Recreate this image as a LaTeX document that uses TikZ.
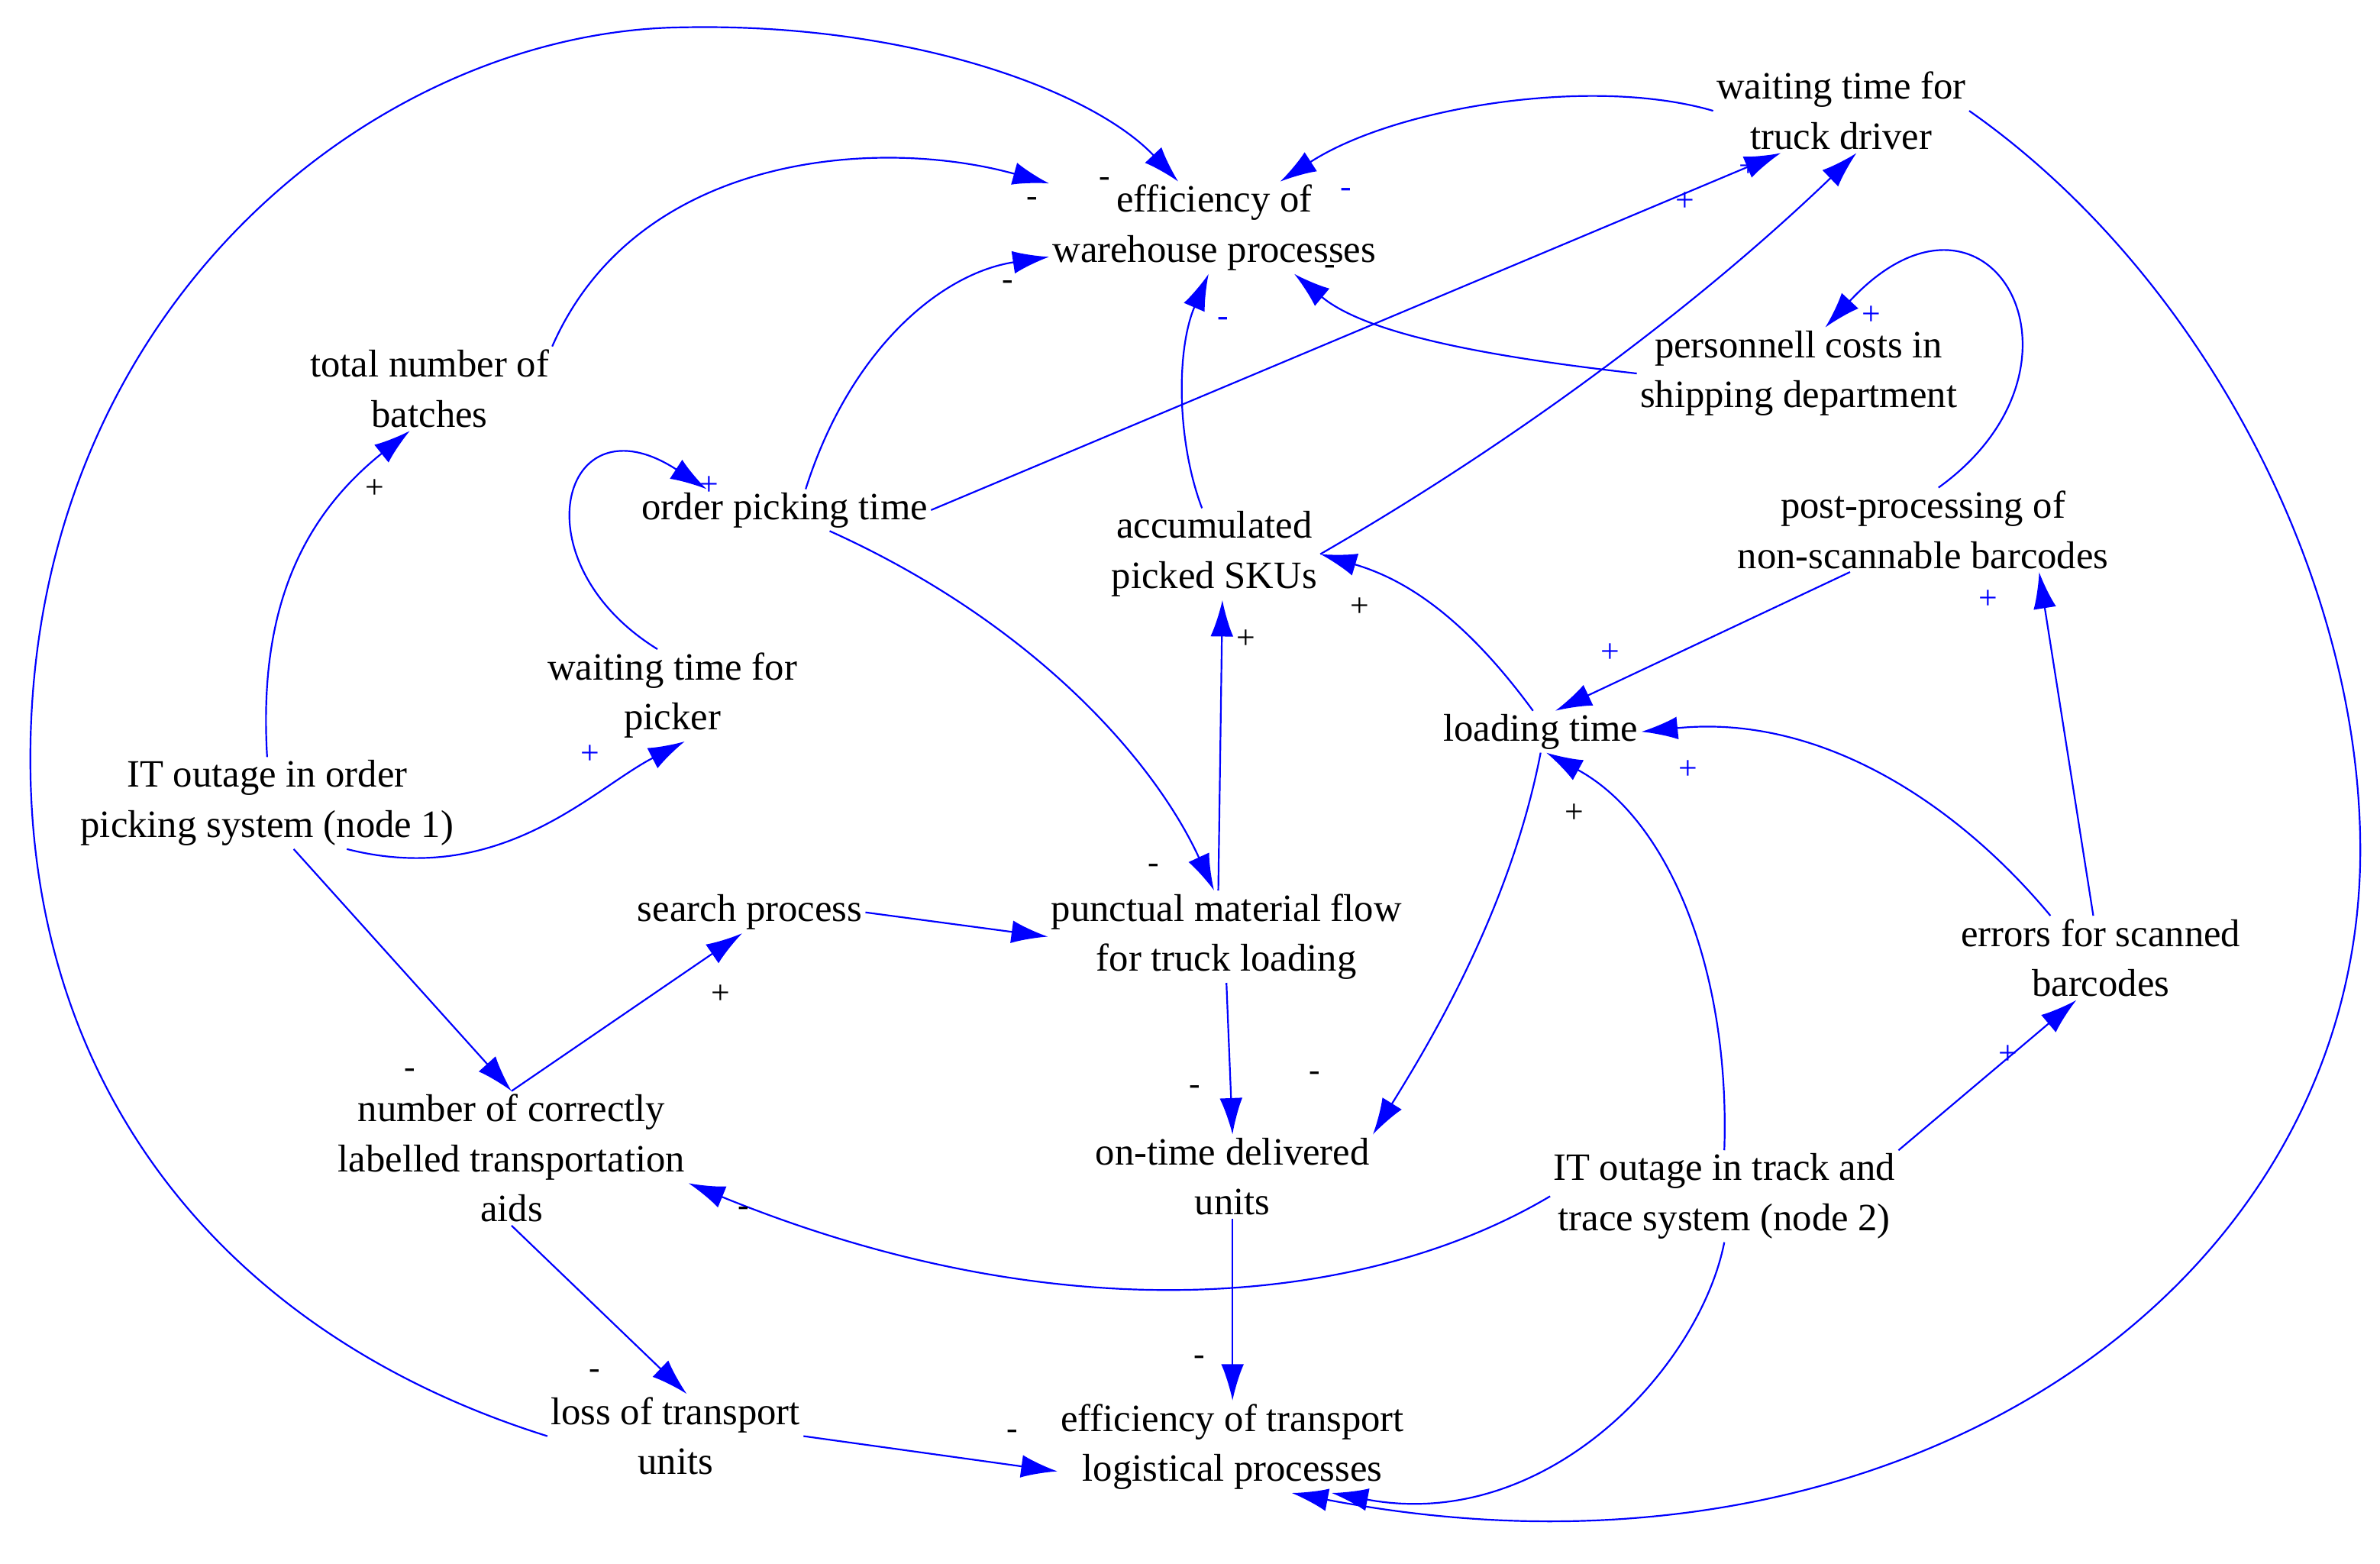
\documentclass[tikz,border=0pt]{standalone}
\usepackage{fontspec}
\setmainfont{Liberation Serif}
\usetikzlibrary{arrows.meta}
\begin{document}
\begin{tikzpicture}[x=1pt,y=-1pt,
  n/.style={align=center,font=\fontsize{25.5}{33}\selectfont,inner sep=2pt},
  e/.style={draw=blue,line width=1.1pt,-{Latex[length=24pt,width=15pt]}},
  s/.style={font=\fontsize{22}{22}\selectfont},
  sb/.style={s,text=blue}]
\useasboundingbox (0,0) rectangle (1568,1030);
\node[n] (effwh) at (800,150) {efficiency of\\warehouse processes};
\node[n] (wtruck) at (1213,73) {waiting time for\\truck driver};
\node[n] (batch) at (283,256) {total number of\\batches};
\node[n] (pers) at (1185,246) {personnell costs in\\shipping department};
\node[n] (opt) at (517,336) {order picking time};
\node[n] (acc) at (800,365) {accumulated\\picked SKUs};
\node[n] (post) at (1267,349) {post-processing of\\non-scannable barcodes};
\node[n] (wpick) at (443,458) {waiting time for\\picker};
\node[n] (load) at (1015,482) {loading time};
\node[n] (it1) at (176,529) {IT outage in order\\picking system (node 1)};
\node[n] (search) at (494,601) {search process};
\node[n] (punct) at (808,617) {punctual material flow\\for truck loading};
\node[n] (err) at (1384,631) {errors for scanned\\barcodes};
\node[n] (lab) at (337,763) {number of correctly\\labelled transportation\\aids};
\node[n] (ontime) at (812,775) {on-time delivered\\units};
\node[n] (it2) at (1136,788) {IT outage in track and\\trace system (node 2)};
\node[n] (loss) at (445,946) {loss of transport\\units};
\node[n] (efftr) at (812,953) {efficiency of transport\\logistical processes};

\draw[e] (loss.west) .. controls (150,880) and (20,720) .. (20,500) .. controls (20,200) and (250,20) .. (450,18) .. controls (600,15) and (720,60) .. (effwh.128);
\draw[e] (batch.north east) .. controls (420,100) and (580,90) .. (effwh.165);
\draw[e] (wtruck.west) .. controls (1050,50) and (920,70) .. (effwh.35);
\draw[e] (opt.45) .. controls (560,230) and (620,180) .. (effwh.190);
\draw[e] (opt.east) -- (wtruck.215);
\draw[e] (acc.east) .. controls (1000,290) and (1120,200) .. (wtruck.290);
\draw[e] (acc.105) .. controls (775,290) and (775,230) .. (effwh.263);
\draw[e] (pers.west) .. controls (980,235) and (900,220) .. (effwh.330);
\draw[e] (post.70) .. controls (1390,240) and (1310,100) .. (pers.60);
\draw[e] (it1.north) .. controls (170,400) and (200,340) .. (batch.245);
\draw[e] (wpick.108) .. controls (340,370) and (370,260) .. (opt.165);
\draw[e] (it1.330) .. controls (330,585) and (390,520) .. (wpick.285);
\draw[e] (opt.335) .. controls (680,410) and (760,500) .. (punct.105);
\draw[e] (punct.100) -- (acc.280);
\draw[e] (load.110) .. controls (960,400) and (920,380) .. (acc.east);
\draw[e] (post.210) -- (load.55);
\draw[e] (load.270) .. controls (995,600) and (940,690) .. (ontime.north east);
\draw[e] (err.140) .. controls (1290,530) and (1200,470) .. (load.east);
\draw[e] (err.100) -- (post.340);
\draw[e] (it2.north) .. controls (1140,640) and (1100,540) .. (load.285);
\draw[e] (it2.north east) -- (err.240);
\draw[e] (it2.west) .. controls (900,860) and (700,880) .. (lab.352);
\draw[e] (it2.south) .. controls (1120,900) and (1020,1010) .. (efftr.335);
\draw[e] (wtruck.east) .. controls (1450,180) and (1555,380) .. (1555,560) .. controls (1555,850) and (1250,1060) .. (efftr.322);
\draw[e] (it1.300) -- (lab.north);
\draw[e] (lab.north) -- (search.250);
\draw[e] (search.east) -- (punct.west);
\draw[e] (punct.south) -- (ontime.north);
\draw[e] (ontime.south) -- (efftr.north);
\draw[e] (lab.south) -- (loss.75);
\draw[e] (loss.east) -- (efftr.188);

\node[s] (s1) at (728,120) {-};
\node[s] (s2) at (680,133) {-};
\node[sb] (s3) at (887,127) {-};
\node[s] (s4) at (664,188) {-};
\node[sb] (s5) at (1110,133) {+};
\node[sb] (s6) at (1152,110) {+};
\node[sb] (s7) at (806,212) {-};
\node[s] (s8) at (876,178) {-};
\node[sb] (s9) at (1233,208) {+};
\node[s] (s10) at (247,322) {+};
\node[sb] (s11) at (467,320) {+};
\node[sb] (s12) at (389,497) {+};
\node[s] (s13) at (760,572) {-};
\node[s] (s14) at (821,421) {+};
\node[s] (s15) at (896,400) {+};
\node[sb] (s16) at (1061,430) {+};
\node[s] (s17) at (866,709) {-};
\node[sb] (s18) at (1112,507) {+};
\node[sb] (s19) at (1310,395) {+};
\node[s] (s20) at (1037,536) {+};
\node[sb] (s21) at (1323,695) {+};
\node[s] (s22) at (490,798) {-};
\node[s] (s23) at (270,707) {-};
\node[s] (s24) at (475,655) {+};
\node[s] (s25) at (787,718) {-};
\node[s] (s26) at (790,896) {-};
\node[s] (s27) at (392,905) {-};
\node[s] (s28) at (667,945) {-};
\end{tikzpicture}
\end{document}
